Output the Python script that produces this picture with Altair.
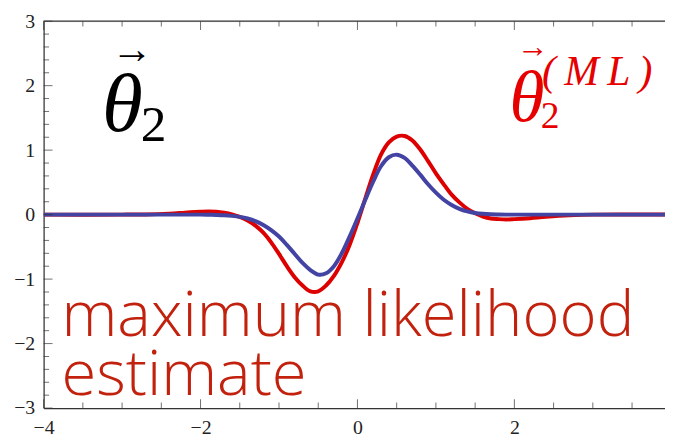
import altair as alt
import pandas as pd

# ---- data ----
X = [-4.0, -3.0, -2.7, -2.4, -2.2, -2.0, -1.9, -1.8, -1.7, -1.6, -1.5, -1.4, -1.3, -1.2, -1.1,
     -1.0, -0.9, -0.8, -0.7, -0.6, -0.5, -0.4, -0.3, -0.2, -0.1, 0.0, 0.1, 0.2, 0.3, 0.4,
     0.5, 0.6, 0.7, 0.8, 0.9, 1.0, 1.1, 1.2, 1.3, 1.4, 1.5, 1.6, 1.7, 1.8, 1.9, 2.0,
     2.2, 2.4, 2.7, 3.0, 4.0]
RED = [0.0, 0.0, 0.003, 0.015, 0.03, 0.045, 0.05, 0.045, 0.03, 0.005, -0.035, -0.09, -0.17, -0.28, -0.43,
       -0.61, -0.80, -0.97, -1.10, -1.19, -1.19, -1.10, -0.95, -0.74, -0.47, -0.13, 0.25, 0.62, 0.93, 1.12,
       1.21, 1.22, 1.15, 1.01, 0.83, 0.64, 0.47, 0.31, 0.19, 0.09, 0.02, -0.03, -0.06, -0.07, -0.075, -0.07,
       -0.055, -0.035, -0.012, 0.0, 0.0]
BLUE = [0.0, 0.0, 0.0, 0.0, 0.0, 0.0, -0.002, -0.005, -0.01, -0.02, -0.035, -0.06, -0.10, -0.16, -0.24,
        -0.34, -0.47, -0.61, -0.75, -0.86, -0.93, -0.91, -0.80, -0.60, -0.34, -0.06, 0.23, 0.51, 0.75, 0.89,
        0.93, 0.88, 0.76, 0.62, 0.47, 0.34, 0.23, 0.15, 0.09, 0.05, 0.025, 0.012, 0.005, 0.002, 0.0, 0.0,
        0.0, 0.0, 0.0, 0.0, 0.0]

X_MAJOR = [-4, -2, 0, 2]
X_MINOR = [-3.5, -3, -2.5, -1.5, -1, -0.5, 0.5, 1, 1.5, 2.5, 3, 3.5]
Y_MAJOR = [-3, -2, -1, 0, 1, 2, 3]
Y_MINOR = [-2.8, -2.6, -2.4, -2.2, -1.8, -1.6, -1.4, -1.2, -0.8, -0.6, -0.4, -0.2,
           0.2, 0.4, 0.6, 0.8, 1.2, 1.4, 1.6, 1.8, 2.2, 2.4, 2.6, 2.8]

# ---- styling ----
W, H = 628, 391
AX = "#333333"
RED_C = "#DD0000"
BLUE_C = "#4343A3"
TXT_RED = "#E60000"
ANN_RED = "#C2210E"
SERIF = "Liberation Serif"

xs = alt.Scale(domain=[-4, 3.92], nice=False, zero=False)
ys = alt.Scale(domain=[-3, 3], nice=False, zero=False)

x_axis = alt.Axis(values=X_MAJOR, format="d", ticks=False, grid=False, title=None, labelPadding=10,
                  labelFont=SERIF, labelFontSize=20, labelColor="#222", domainColor=AX,
                  domainWidth=1.2, labelFlush=False)
y_axis = alt.Axis(values=Y_MAJOR, format="d", ticks=False, grid=False, title=None, labelPadding=9,
                  labelFont=SERIF, labelFontSize=20, labelColor="#222", domainColor=AX,
                  domainWidth=1.2)

df = pd.DataFrame({"x": X, "red": RED, "blue": BLUE})

red_line = alt.Chart(df).mark_line(color=RED_C, strokeWidth=4, interpolate="catmull-rom", clip=True).encode(
    x=alt.X("x:Q", scale=xs, axis=x_axis),
    y=alt.Y("red:Q", scale=ys, axis=y_axis),
)
blue_line = alt.Chart(df).mark_line(color=BLUE_C, strokeWidth=4, interpolate="catmull-rom", clip=True).encode(
    x=alt.X("x:Q", scale=xs),
    y=alt.Y("blue:Q", scale=ys),
)


def yticks(vals, length):
    return alt.Chart(pd.DataFrame({"v": vals})).mark_tick(
        orient="horizontal", color=AX, thickness=1, size=length).encode(
        y=alt.Y("v:Q", scale=ys), x=alt.value(length / 2))


def xticks(vals, length, top):
    ypos = length / 2 if top else H - length / 2
    return alt.Chart(pd.DataFrame({"v": vals})).mark_tick(
        orient="vertical", color=AX, thickness=1, size=length).encode(
        x=alt.X("v:Q", scale=xs), y=alt.value(ypos))


top_rule = alt.Chart(pd.DataFrame({"v": [0]})).mark_rule(color=AX, strokeWidth=1.2).encode(
    x=alt.value(0), x2=alt.value(W), y=alt.value(0))


def label(x, y, text, size, color, font=SERIF, style="normal", align="left", weight="normal"):
    return alt.Chart(pd.DataFrame({"x": [x], "y": [y], "t": [text]})).mark_text(
        font=font, fontSize=size, color=color, fontStyle=style, align=align,
        baseline="alphabetic", fontWeight=weight).encode(
        x=alt.X("x:Q", scale=xs), y=alt.Y("y:Q", scale=ys), text="t:N")


ann = [
    label(-3.773, -1.879, "maximum likelihood", 64, ANN_RED, font="Open Sans", weight=300),
    label(-3.773, -2.799, "estimate", 64, ANN_RED, font="Open Sans", weight=300),
    label(-3.256, 1.296, "θ", 84, "black", style="italic"),
    label(-2.763, 1.143, "2", 52, "black"),
    label(-2.872, 2.355, "→", 42, "black", align="center"),
    label(1.938, 1.449, "θ", 72, TXT_RED, style="italic"),
    label(2.335, 1.342, "2", 38, TXT_RED),
    label(2.234, 2.45, "→", 32, TXT_RED, align="center"),
    label(2.353, 2.017, "(\u2009M\u2009L\u2009)", 42, TXT_RED, style="italic"),
]

chart = alt.layer(
    *ann, red_line, blue_line,
    yticks(Y_MAJOR, 9), yticks(Y_MINOR, 5.5),
    xticks(X_MAJOR, 9, False), xticks(X_MINOR, 5.5, False),
    xticks(X_MAJOR, 9, True), xticks(X_MINOR, 5.5, True),
    top_rule,
).properties(
    width=W, height=H,
    padding={"left": 36, "top": 11, "right": 0, "bottom": 33},
    autosize=alt.AutoSizeParams(type="none"),
).configure_view(stroke=None).configure(background="white")

chart.save("out.html", embed_options={"renderer": "svg", "actions": False})
